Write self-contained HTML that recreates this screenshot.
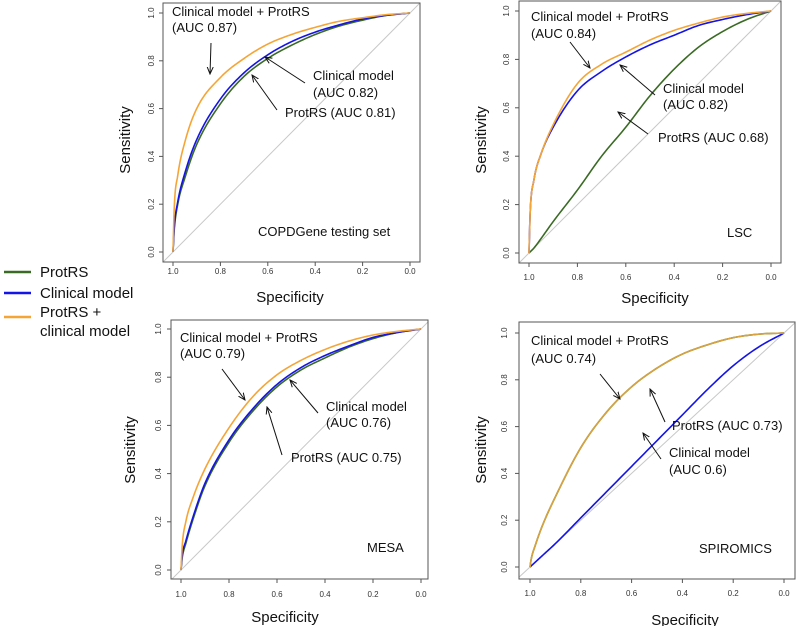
<!DOCTYPE html>
<html><head><meta charset="utf-8">
<style>
body{margin:0;background:#fff;}
svg{display:block;font-family:"Liberation Sans",Arial,sans-serif;}
.ann{font-size:13px;fill:#111;}
.tick{font-size:8px;fill:#333;}
.ttl{font-size:15px;fill:#111;}
</style></head>
<body>
<svg id="chart" width="796" height="626" viewBox="0 0 796 626">
<defs><marker id="ah" markerWidth="8" markerHeight="8" refX="7" refY="4" orient="auto" markerUnits="userSpaceOnUse"><path d="M0,1 L7,4 L0,7" fill="none" stroke="#111" stroke-width="1"/></marker></defs>
<g>
<line x1="4" y1="272" x2="31" y2="272" stroke="#3a6b24" stroke-width="2.5"/>
<text x="40" y="277" class="ttl">ProtRS</text>
<line x1="4" y1="293" x2="31" y2="293" stroke="#1414e6" stroke-width="2.5"/>
<text x="40" y="298" class="ttl">Clinical model</text>
<line x1="4" y1="317" x2="31" y2="317" stroke="#f5a536" stroke-width="2.5"/>
<text x="40" y="317" class="ttl">ProtRS +</text>
<text x="40" y="336" class="ttl">clinical model</text>
</g>
</svg>
<script>
const specGrid = [1, .995, .98, .95, .9, .8, .7, .6, .5, .4, .3, .2, .1, 0];
const copdOrange = [0,.18,.32,.46,.60,.73,.81,.87,.91,.94,.965,.98,.993,1];
const copdBlue   = [0,.10,.21,.33,.47,.64,.75,.825,.88,.92,.95,.975,.99,1];
const copdGreen  = [0,.09,.20,.31,.45,.62,.735,.81,.865,.91,.945,.97,.99,1];
const lscOrange  = [0,.17,.30,.41,.53,.70,.78,.83,.88,.92,.95,.975,.99,1];
const lscBlue    = [0,.17,.30,.41,.52,.67,.75,.81,.86,.90,.94,.965,.985,1];
const lscGreen   = [0,.005,.02,.06,.13,.26,.40,.52,.65,.76,.85,.915,.965,1];
const mesaOrange = [0,.10,.20,.30,.42,.59,.72,.81,.87,.915,.95,.975,.99,1];
const mesaBlue   = [0,.06,.12,.22,.36,.54,.67,.77,.84,.89,.93,.965,.985,1];
const mesaGreen  = [0,.05,.11,.21,.35,.53,.66,.76,.83,.88,.925,.96,.985,1];
const spiroGreen  = [0,.035,.09,.18,.30,.51,.66,.77,.85,.91,.95,.98,.995,1];
const spiroOrange = [0,.035,.09,.18,.30,.51,.66,.77,.85,.91,.95,.98,.995,1];
const spiroBlue   = [0,.005,.02,.05,.10,.21,.32,.43,.54,.65,.76,.86,.94,1];
const tickLabels = ["1.0","0.8","0.6","0.4","0.2","0.0"];
const tickVals = [1,.8,.6,.4,.2,0];
const yTickLabels = ["0.0","0.2","0.4","0.6","0.8","1.0"];
const yTickVals = [0,.2,.4,.6,.8,1];

const NS="http://www.w3.org/2000/svg";
const svg=document.getElementById('chart');
function mk(tag,attrs,parent,text){const e=document.createElementNS(NS,tag);for(const k in attrs)e.setAttribute(k,attrs[k]);if(text!==undefined)e.textContent=text;(parent||svg).appendChild(e);return e;}

const panels=[
 {id:'copdgene',box:[163,3,420,262],x1:173,x0:410,y1:13,y0:252,series:[[copdGreen,'#3a6b24','protrs'],[copdBlue,'#1414e6','clinical'],[copdOrange,'#f5a536','combined']],
  yt:130,yc:140,xtc:290,xty:302,tickY:274,ytx:154,
  texts:[[172,16,'Clinical model + ProtRS'],[172,32,'(AUC 0.87)'],[313,80,'Clinical model'],[313,97,'(AUC 0.82)'],[285,117,'ProtRS (AUC 0.81)'],[258,236,'COPDGene testing set']],
  arrows:[[211,43,210,74],[305,83,265,57],[277,110,252,75]]},
 {id:'lsc',box:[519,1,781,263],x1:529,x0:771,y1:11,y0:253,series:[[lscGreen,'#3a6b24','protrs'],[lscBlue,'#1414e6','clinical'],[lscOrange,'#f5a536','combined']],
  yt:486,yc:140,xtc:655,xty:303,tickY:280,ytx:509,
  texts:[[531,21,'Clinical model + ProtRS'],[531,38,'(AUC 0.84)'],[663,93,'Clinical model'],[663,109,'(AUC 0.82)'],[658,142,'ProtRS (AUC 0.68)'],[727,237,'LSC']],
  arrows:[[570,42,590,68],[655,95,620,65],[648,134,618,112]]},
 {id:'mesa',box:[171,320,428,579],x1:181,x0:421,y1:329,y0:570,series:[[mesaGreen,'#3a6b24','protrs'],[mesaBlue,'#1414e6','clinical'],[mesaOrange,'#f5a536','combined']],
  yt:135,yc:450,xtc:285,xty:622,tickY:597,ytx:161,
  texts:[[180,342,'Clinical model + ProtRS'],[180,358,'(AUC 0.79)'],[326,411,'Clinical model'],[326,427,'(AUC 0.76)'],[291,462,'ProtRS (AUC 0.75)'],[367,552,'MESA']],
  arrows:[[222,369,245,400],[318,413,290,380],[282,455,267,407]]},
 {id:'spiromics',box:[519,322,795,579],x1:530,x0:784,y1:333,y0:567,series:[[spiroBlue,'#1414e6','clinical'],[spiroGreen,'#3a6b24','protrs'],[spiroOrange,'#d9a23e','combined']],
  yt:486,yc:450,xtc:685,xty:625,tickY:596,ytx:507,
  texts:[[531,345,'Clinical model + ProtRS'],[531,363,'(AUC 0.74)'],[672,430,'ProtRS (AUC 0.73)'],[669,457,'Clinical model'],[669,474,'(AUC 0.6)'],[699,553,'SPIROMICS']],
  arrows:[[600,374,620,399],[665,422,650,389],[661,459,643,433]]}
];

function monoSample(xs,ys,n){
  const m=xs.length,d=[],t=new Array(m);
  for(let i=0;i<m-1;i++)d.push((ys[i+1]-ys[i])/(xs[i+1]-xs[i]));
  t[0]=d[0];t[m-1]=d[m-2];
  for(let i=1;i<m-1;i++)t[i]=(d[i-1]*d[i]<=0)?0:(d[i-1]+d[i])/2;
  for(let i=0;i<m-1;i++){
    if(d[i]===0){t[i]=0;t[i+1]=0;continue;}
    const a=t[i]/d[i],b=t[i+1]/d[i],s=a*a+b*b;
    if(s>9){const k=3/Math.sqrt(s);t[i]=k*a*d[i];t[i+1]=k*b*d[i];}
  }
  const out=[];
  for(let i=0;i<m-1;i++){
    const h=xs[i+1]-xs[i];
    for(let j=0;j<n;j++){
      const u=j/n,h00=2*u*u*u-3*u*u+1,h10=u*u*u-2*u*u+u,h01=-2*u*u*u+3*u*u,h11=u*u*u-u*u;
      out.push([xs[i]+u*h,h00*ys[i]+h10*h*t[i]+h01*ys[i+1]+h11*h*t[i+1]]);
    }
  }
  out.push([xs[m-1],ys[m-1]]);
  return out;
}

panels.forEach(p=>{
  const g=mk('g',{});
  
  
  const sx=v=>p.x0+(p.x1-p.x0)*v;
  const sy=v=>p.y0+(p.y1-p.y0)*v;
  const [bx0,by0,bx1,by1]=p.box;
  const cid='clip-'+p.id;
  const cp=mk('clipPath',{id:cid},g);mk('rect',{x:bx0,y:by0,width:bx1-bx0,height:by1-by0},cp);
  const diag=mk('line',{x1:sx(1.2),y1:sy(-0.2),x2:sx(-0.2),y2:sy(1.2),stroke:'#c8c8c8','stroke-width':1,'clip-path':'url(#'+cid+')'},g);
  
  
  const box=mk('rect',{x:bx0,y:by0,width:bx1-bx0,height:by1-by0,fill:'none',stroke:'#555','stroke-width':1},g);
  
  
  tickVals.forEach((v,i)=>{
    mk('line',{x1:sx(v),y1:by1,x2:sx(v),y2:by1+4,stroke:'#555'},g);
    const t=mk('text',{x:sx(v),y:p.tickY,'text-anchor':'middle',class:'tick'},g,tickLabels[i]);
    
    
  });
  yTickVals.forEach((v,i)=>{
    mk('line',{x1:bx0,y1:sy(v),x2:bx0-4,y2:sy(v),stroke:'#555'},g);
    const t=mk('text',{x:p.ytx,y:sy(v),'text-anchor':'middle',class:'tick',transform:'rotate(-90 '+p.ytx+' '+sy(v)+')'},g,yTickLabels[i]);
    
    
  });
  p.series.forEach(s=>{
    const xs=specGrid.map(v=>1-v);
    const pts=monoSample(xs,s[0],12).map(q=>[sx(1-q[0]),sy(q[1])]);
    const d='M'+pts.map(q=>q[0].toFixed(2)+','+q[1].toFixed(2)).join(' L');
    const path=mk('path',{d:d,fill:'none',stroke:s[1],'stroke-width':1.6,'stroke-linejoin':'round'},g);
    
    
  });
  p.texts.forEach(t=>{
    const e=mk('text',{x:t[0],y:t[1],class:'ann'},g,t[2]);
    
    
  });
  p.arrows.forEach(a=>{
    const e=mk('line',{x1:a[0],y1:a[1],x2:a[2],y2:a[3],stroke:'#111','stroke-width':1,'marker-end':'url(#ah)'},g);
    
    
  });
  const yt=mk('text',{x:p.yt,y:p.yc,'text-anchor':'middle',class:'ttl',transform:'rotate(-90 '+p.yt+' '+p.yc+')'},g,'Sensitivity');
  
  
  const xt=mk('text',{x:p.xtc,y:p.xty,'text-anchor':'middle',class:'ttl'},g,'Specificity');
  
  
});
</script>
</body></html>
